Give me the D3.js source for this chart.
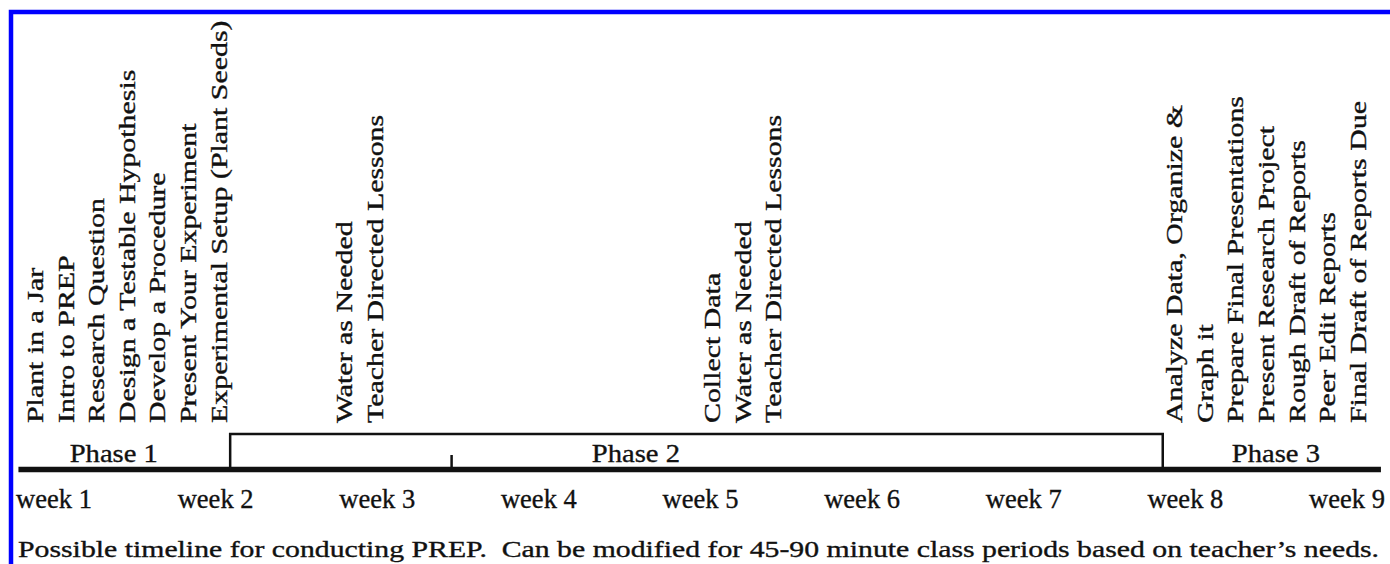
<!DOCTYPE html>
<html>
<head>
<meta charset="utf-8">
<script src="https://cdn.jsdelivr.net/npm/d3@7.9.0/dist/d3.min.js"></script>
<style>
  html, body { margin: 0; padding: 0; background: #ffffff; }
  svg { display: block; }
  text { font-family: "Liberation Serif", "Times New Roman", serif; fill: #111; stroke: #111; stroke-width: 0.35; }
</style>
</head>
<body>
<div id="chart"></div>
<script>
// week labels along the bottom
const weeks = ["week 1", "week 2", "week 3", "week 4", "week 5", "week 6", "week 7", "week 8", "week 9"];

// phases: label text and where the label sits (in weeks)
const phaseNames = ["Phase 1", "Phase 2", "Phase 3"];
const phaseLabelAt = [1.37, 4.6, 8.56];

// phase 2 bracket start/end and the small mark inside it (in weeks)
const phase2Span = [2.09, 7.86];
const midMark = [3.46];

// timeline runs a bit past week 1 and week 9
const timelineSpan = [0.78, 9.21];

// activity groups: first column position (in weeks) and the lines
const groupAt = [0.932, 2.844, 5.121, 7.98];
const groupLines = [
  ["Plant in a Jar", "Intro to PREP", "Research Question", "Design a Testable Hypothesis",
   "Develop a Procedure", "Present Your Experiment", "Experimental Setup (Plant Seeds)"],
  ["Water as Needed", "Teacher Directed Lessons"],
  ["Collect Data", "Water as Needed", "Teacher Directed Lessons"],
  ["Analyze Data, Organize &", "Graph it", "Prepare Final Presentations", "Present Research Project",
   "Rough Draft of Reports", "Peer Edit Reports", "Final Draft of Reports Due"]
];

const caption = "Possible timeline for conducting PREP.  Can be modified for 45-90 minute class periods based on teacher\u2019s needs.";

const width = 1390, height = 564;
const axisY = 469.5, bracketY = 434, labelBase = 423, colGap = 30.6;

const svg = d3.select("#chart").append("svg")
  .attr("width", width)
  .attr("height", height);

const x = d3.scaleLinear().domain([1, 9]).range([54, 1347]);

// blue frame (top and left only)
svg.append("path")
  .attr("d", `M11,${height} L11,12 L${width},12`)
  .attr("fill", "none")
  .attr("stroke", "#0000ff")
  .attr("stroke-width", 4.5);

// activity labels, rotated
groupLines.forEach((lines, gi) => {
  svg.append("g")
    .selectAll("text")
    .data(lines)
    .join("text")
    .attr("transform", (d, i) => `translate(${x(groupAt[gi]) + i * colGap},${labelBase}) rotate(-90) scale(1.3,1)`)
    .attr("font-size", 23)
    .text(d => d);
});

// phase 2 bracket
svg.append("path")
  .attr("d", `M${x(phase2Span[0])},${axisY} L${x(phase2Span[0])},${bracketY} L${x(phase2Span[1])},${bracketY} L${x(phase2Span[1])},${axisY}`)
  .attr("fill", "none")
  .attr("stroke", "#111")
  .attr("stroke-width", 2.5);

svg.selectAll(".mid-mark")
  .data(midMark)
  .join("line")
  .attr("class", "mid-mark")
  .attr("x1", d => x(d)).attr("x2", d => x(d))
  .attr("y1", 455).attr("y2", axisY)
  .attr("stroke", "#111")
  .attr("stroke-width", 2.5);

// timeline axis
svg.append("line")
  .attr("x1", x(timelineSpan[0]))
  .attr("x2", x(timelineSpan[1]))
  .attr("y1", axisY).attr("y2", axisY)
  .attr("stroke", "#111")
  .attr("stroke-width", 5.5);

// phase labels
svg.selectAll(".phase")
  .data(phaseNames)
  .join("text")
  .attr("class", "phase")
  .attr("transform", (d, i) => `translate(${x(phaseLabelAt[i])},462) scale(1.1,1)`)
  .attr("text-anchor", "middle")
  .attr("font-size", 26)
  .text(d => d);

// week labels
svg.selectAll(".week")
  .data(weeks)
  .join("text")
  .attr("class", "week")
  .attr("x", (d, i) => x(i + 1))
  .attr("y", 508)
  .attr("text-anchor", "middle")
  .attr("font-size", 26.5)
  .text(d => d);

// caption, stretched wide like the scan
svg.append("text")
  .attr("transform", "translate(18,557) scale(1.295,1)")
  .attr("font-size", 23)
  .style("white-space", "pre")
  .text(caption);
</script>
</body>
</html>
